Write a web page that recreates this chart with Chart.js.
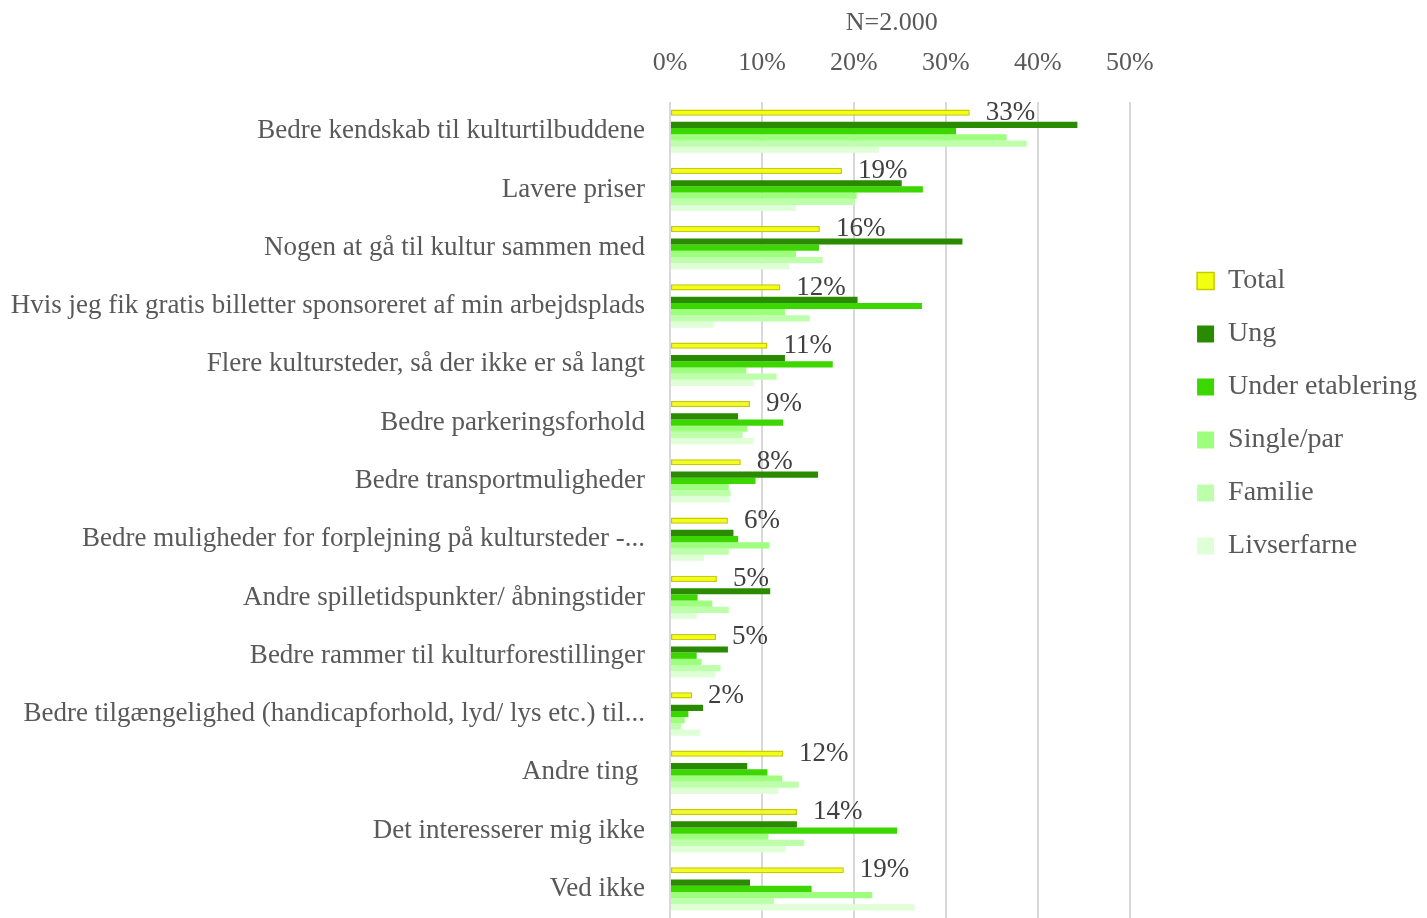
<!DOCTYPE html>
<html lang="da">
<head>
    <meta charset="UTF-8">
    <title>Hvad skal der til - N=2.000</title>
    <script src="https://cdn.jsdelivr.net/npm/chart.js"></script>
    <style>
        html, body { margin: 0; padding: 0; background: #fff; }
        .chart-box { width: 1427px; height: 918px; }
    </style>
</head>
<body>
    <div class="chart-box"><canvas id="barChart"></canvas></div>
    <script>
        const categories = [
            'Bedre kendskab til kulturtilbuddene',
            'Lavere priser',
            'Nogen at gå til kultur sammen med',
            'Hvis jeg fik gratis billetter sponsoreret af min arbejdsplads',
            'Flere kultursteder, så der ikke er så langt',
            'Bedre parkeringsforhold',
            'Bedre transportmuligheder',
            'Bedre muligheder for forplejning på kultursteder -...',
            'Andre spilletidspunkter/ åbningstider',
            'Bedre rammer til kulturforestillinger',
            'Bedre tilgængelighed (handicapforhold, lyd/ lys etc.) til...',
            'Andre ting ',
            'Det interesserer mig ikke',
            'Ved ikke'
        ];
        const total       = [32.6, 18.7, 16.3, 12.0, 10.6, 8.7, 7.7, 6.3, 5.1, 5.0, 2.4, 12.3, 13.8, 18.9];
        const ung         = [44.3, 25.2, 31.8, 20.4, 12.5, 7.4, 16.1, 6.9, 10.9, 6.3, 3.6, 8.4, 13.8, 8.7];
        const underEtab   = [31.1, 27.5, 16.2, 27.4, 17.7, 12.3, 9.3, 7.4, 3.0, 2.9, 2.0, 10.6, 24.7, 15.4];
        const singlePar   = [36.6, 20.3, 13.7, 12.5, 8.3, 8.4, 6.4, 10.8, 4.6, 3.4, 1.6, 12.2, 10.7, 22.0];
        const familie     = [38.8, 20.1, 16.6, 15.2, 11.6, 7.9, 6.6, 6.4, 6.4, 5.5, 1.2, 14.0, 14.6, 11.3];
        const livserfarne = [22.7, 13.7, 13.0, 4.7, 9.1, 9.1, 6.5, 3.7, 2.9, 4.9, 3.3, 11.8, 12.6, 26.6];
        const xTicks = [0, 10, 20, 30, 40, 50];

        Chart.defaults.font.family = '"Liberation Serif", "DejaVu Serif", serif';
        Chart.defaults.color = '#595959';

        // percent labels next to the Total bars
        const totalLabels = {
            id: 'totalLabels',
            afterDatasetsDraw(chart) {
                const ctx = chart.ctx;
                const meta = chart.getDatasetMeta(0);
                ctx.save();
                ctx.font = '27px "Liberation Serif", serif';
                ctx.fillStyle = '#404040';
                ctx.textAlign = 'left';
                ctx.textBaseline = 'middle';
                meta.data.forEach((bar, i) => {
                    ctx.fillText(Math.round(total[i]) + '%', bar.x + 16, bar.y);
                });
                ctx.restore();
            }
        };

        const ctx = document.getElementById('barChart').getContext('2d');
        new Chart(ctx, {
            type: 'bar',
            data: {
                labels: categories,
                datasets: [
                    { label: 'Total', data: total, backgroundColor: '#F2FF0F', borderColor: '#C9C900', borderWidth: 1.5, borderSkipped: false },
                    // empty slot: Total sits a little apart from the groups
                    { label: '', data: categories.map(() => null), backgroundColor: 'rgba(0,0,0,0)' },
                    { label: 'Ung', data: ung, backgroundColor: '#2A8A00' },
                    { label: 'Under etablering', data: underEtab, backgroundColor: '#3CD600' },
                    { label: 'Single/par', data: singlePar, backgroundColor: '#9DFF7D' },
                    { label: 'Familie', data: familie, backgroundColor: '#BDFFAB' },
                    { label: 'Livserfarne', data: livserfarne, backgroundColor: '#DFFFD6' }
                ]
            },
            options: {
                indexAxis: 'y',
                responsive: true,
                maintainAspectRatio: false,
                animation: false,
                datasets: {
                    bar: { categoryPercentage: 0.744, barPercentage: 1 }
                },
                layout: { padding: 0 },
                scales: {
                    x: {
                        position: 'top',
                        min: 0,
                        max: 54.6,
                        afterBuildTicks: (scale) => { scale.ticks = xTicks.map(v => ({ value: v })); },
                        afterFit: (scale) => { scale.height = 102; },
                        ticks: {
                            callback: (v) => v + '%',
                            font: { size: 26 },
                            color: '#595959',
                            padding: 23
                        },
                        grid: { color: '#D9D9D9', lineWidth: 2, drawTicks: false },
                        border: { display: false },
                        title: {
                            display: true,
                            text: 'N=2.000         ',
                            font: { size: 26 },
                            color: '#595959',
                            padding: { top: 8, bottom: 8 }
                        }
                    },
                    y: {
                        afterFit: (scale) => {
                            scale.width = 670;
                            scale.paddingTop = 0;
                            scale.paddingBottom = 0;
                        },
                        grid: { display: false, drawTicks: false },
                        border: { display: false },
                        ticks: {
                            autoSkip: false,
                            font: { size: 27 },
                            color: '#595959',
                            padding: 25
                        }
                    }
                },
                plugins: {
                    legend: {
                        position: 'right',
                        align: 'start',
                        title: { display: true, text: ' ', font: { size: 10 }, padding: { top: 230, bottom: 0 } },
                        labels: {
                            boxWidth: 17,
                            boxHeight: 17,
                            padding: 25,
                            font: { size: 28 },
                            color: '#595959',
                            filter: (item) => item.text !== ''
                        }
                    },
                    tooltip: { enabled: false }
                }
            },
            plugins: [totalLabels]
        });
    </script>
</body>
</html>
